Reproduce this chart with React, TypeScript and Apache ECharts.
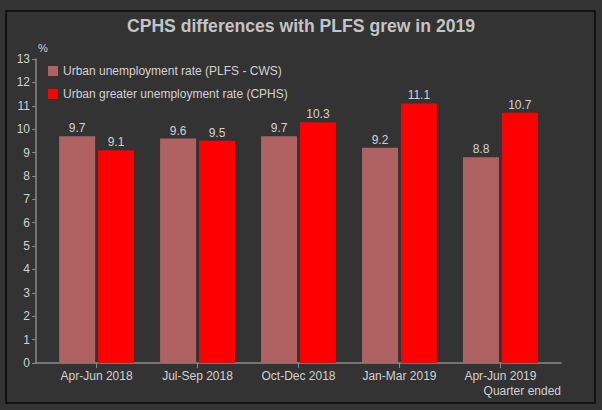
import React, { useEffect, useRef } from "react";
import * as echarts from "echarts";

const categories = ["Apr-Jun 2018", "Jul-Sep 2018", "Oct-Dec 2018", "Jan-Mar 2019", "Apr-Jun 2019"];
const plfsValues = [9.7, 9.6, 9.7, 9.2, 8.8];
const cphsValues = [9.1, 9.5, 10.3, 11.1, 10.7];
const seriesNames = ["Urban unemployment rate (PLFS - CWS)", "Urban greater unemployment rate (CPHS)"];
const yTicks = [0, 1, 2, 3, 4, 5, 6, 7, 8, 9, 10, 11, 12, 13];

export default function App() {
  const ref = useRef<HTMLDivElement>(null);
  useEffect(() => {
    if (!ref.current) return;
    const chart = echarts.init(ref.current, null, { renderer: "svg" });
    const font = "Liberation Sans, Arial, sans-serif";
    const textColor = "#d2d2d2";
    const axisColor = "#8a8a8a";
    const idx = categories.map((_, i) => i);
    chart.setOption({
      animation: false,
      backgroundColor: "#333333",
      textStyle: { fontFamily: font },
      title: {
        text: "CPHS differences with PLFS grew in 2019",
        left: "center",
        top: 12,
        textStyle: { color: "#c4c4c4", fontSize: 17.6, fontWeight: "bold", fontFamily: font },
      },
      graphic: [
        {
          type: "rect",
          shape: { x: 6, y: 11, width: 589, height: 392 },
          style: { fill: "none", stroke: "#0a0a0a", lineWidth: 1.5 },
          silent: true,
        },
      ],
      legend: {
        orient: "vertical",
        left: 43,
        top: 60,
        itemWidth: 10,
        itemHeight: 10,
        itemGap: 11,
        icon: "rect",
        textStyle: { color: textColor, fontSize: 12, fontFamily: font },
        data: seriesNames,
      },
      grid: { left: 36, right: 41, top: 59, bottom: 47, containLabel: false },
      xAxis: {
        type: "value",
        min: -0.6,
        max: 4.6,
        splitLine: { show: false },
        axisLine: { show: true, onZero: false, lineStyle: { color: axisColor, width: 1.5 } },
        axisTick: { show: true, customValues: idx, length: 5, lineStyle: { color: axisColor } },
        axisLabel: {
          customValues: idx,
          color: textColor,
          fontSize: 12,
          fontFamily: font,
          margin: 7,
          formatter: (v: number) => categories[Math.round(v)] ?? "",
        },
        name: "Quarter ended",
        nameLocation: "end",
        nameGap: 0,
        nameTextStyle: {
          color: textColor,
          fontSize: 12,
          fontFamily: font,
          align: "right",
          verticalAlign: "top",
          padding: [22, 0, 0, 0],
        },
      },
      yAxis: {
        type: "value",
        min: 0,
        max: 13,
        interval: 1,
        splitLine: { show: false },
        axisLine: { show: true, onZero: false, lineStyle: { color: axisColor, width: 1.5 } },
        axisTick: { show: true, inside: false, length: 4, lineStyle: { color: axisColor } },
        axisLabel: {
          color: textColor,
          fontSize: 12,
          fontFamily: font,
          margin: 6,
          formatter: (v: number) => (yTicks.includes(v) ? String(v) : ""),
        },
        name: "%",
        nameLocation: "end",
        nameGap: 6,
        nameTextStyle: { color: textColor, fontSize: 11, fontFamily: font, align: "left", padding: [0, 0, 0, 2] },
      },
      series: [
        {
          name: seriesNames[0],
          type: "bar",
          barWidth: 36,
          barGap: "8%",
          itemStyle: { color: "#b06262" },
          label: { show: true, position: "top", color: textColor, fontSize: 12, fontFamily: font, distance: 2 },
          data: plfsValues.map((v, i) => [i, v]),
        },
        {
          name: seriesNames[1],
          type: "bar",
          barWidth: 36,
          barGap: "8%",
          itemStyle: { color: "#ff0000" },
          label: { show: true, position: "top", color: textColor, fontSize: 12, fontFamily: font, distance: 2 },
          data: cphsValues.map((v, i) => [i, v]),
        },
      ],
    });
    return () => chart.dispose();
  }, []);
  return (
    <div
      ref={ref}
      style={{ position: "fixed", left: 0, top: 0, width: 602, height: 410, background: "#333333" }}
    />
  );
}
